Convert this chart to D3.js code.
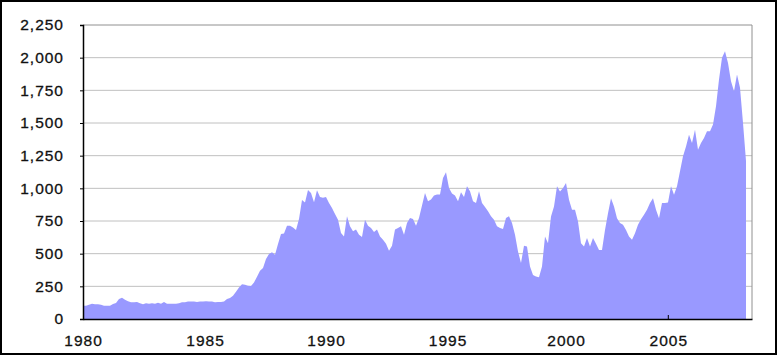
<!DOCTYPE html>
<html>
<head>
<meta charset="utf-8">
<script src="https://cdn.jsdelivr.net/npm/d3@7"></script>
<style>
  html, body { margin: 0; padding: 0; background: #fff; }
  svg text { font-family: "Liberation Sans", Arial, sans-serif; }
</style>
</head>
<body>
<div id="chart"></div>
<script>
// series values, one per sample step (roughly evenly spaced over 1980 - early 2008)
const values = [
  102, 102, 110, 117, 112, 112, 110, 102, 102, 102,
  115, 122, 153, 163, 148, 135, 128, 128, 130, 120,
  112, 120, 117, 120, 117, 125, 117, 130, 117, 117,
  117, 117, 120, 128, 128, 133, 133, 133, 130, 133,
  133, 135, 133, 133, 128, 130, 130, 133, 153, 160,
  178, 209, 242, 265, 262, 255, 252, 280, 324, 370,
  390, 459, 497, 510, 492, 574, 650, 655, 714, 714,
  701, 681, 765, 910, 892, 987, 965, 893, 986, 934,
  927, 934, 888, 850, 804, 760, 658, 632, 786, 709,
  671, 684, 645, 627, 760, 714, 696, 666, 684, 632,
  607, 576, 522, 561, 684, 696, 709, 645, 735, 773,
  765, 714, 773, 868, 965, 901, 914, 945, 952, 952,
  1080, 1124, 1003, 960, 945, 901, 970, 934, 1016, 978,
  901, 888, 978, 888, 858, 824, 786, 760, 709, 696,
  689, 773, 786, 735, 645, 517, 428, 561, 555, 401,
  337, 325, 320, 401, 631, 580, 785, 861, 1015, 976,
  1002, 1040, 912, 836, 836, 746, 580, 555, 619, 555,
  619, 575, 529, 529, 682, 810, 925, 861, 772, 734,
  721, 682, 631, 606, 657, 721, 764, 797, 836, 887,
  925, 836, 772, 887, 887, 892, 1015, 951, 1015, 1130,
  1245, 1321, 1411, 1347, 1449, 1296, 1347, 1385, 1436, 1436,
  1488, 1628, 1833, 1999, 2050, 1960, 1820, 1743, 1871, 1769,
  1500, 1210
];
const sampleCount = 224;            // x axis spans this many sample steps
const yearLabels = ["1980", "1985", "1990", "1995", "2000", "2005"];
const yearSteps = [0, 40.7, 81, 121.5, 161, 195.1];  // step where each year starts
const markedYear = "2005";
const yTicks = [0, 250, 500, 750, 1000, 1250, 1500, 1750, 2000, 2250];

const width = 780, height = 357;
const margin = { top: 25, right: 28, bottom: 38, left: 83 };
const innerW = width - margin.left - margin.right;
const innerH = height - margin.top - margin.bottom;

const svg = d3.select("#chart").append("svg")
  .attr("width", width)
  .attr("height", height);

// outer frame
svg.append("rect")
  .attr("x", 1).attr("y", 1)
  .attr("width", 775).attr("height", 353)
  .attr("fill", "#fff")
  .attr("stroke", "#000")
  .attr("stroke-width", 2);

const g = svg.append("g").attr("transform", `translate(${margin.left},${margin.top})`);

const x = d3.scaleLinear().domain([0, sampleCount - 1]).range([0, innerW]);
const y = d3.scaleLinear().domain([0, 2250]).range([innerH, 0]);

// gridlines
g.selectAll(".grid")
  .data(yTicks.filter(d => d > 0 && d < 2250))
  .join("line")
  .attr("class", "grid")
  .attr("x1", 0).attr("x2", innerW)
  .attr("y1", d => y(d)).attr("y2", d => y(d))
  .attr("stroke", "#c0c0c0")
  .attr("stroke-width", 1);

// area
const area = d3.area()
  .x((d, i) => x(i))
  .y0(y(0))
  .y1(d => y(d));

g.append("path")
  .datum(values)
  .attr("d", area)
  .attr("fill", "#9999ff");

// plot border: top & right grey
g.append("path")
  .attr("d", `M0,${y(2250)}H${innerW}V${innerH}`)
  .attr("fill", "none")
  .attr("stroke", "#909090")
  .attr("stroke-width", 1);

function styleLabels(sel) {
  sel.attr("font-size", 15.5)
    .attr("letter-spacing", 1)
    .attr("fill", "#111")
    .attr("stroke", "#111")
    .attr("stroke-width", 0.3);
}

// y axis
const yAxis = g.append("g")
  .call(d3.axisLeft(y).tickValues(yTicks).tickSize(3).tickPadding(16)
    .tickFormat(d3.format(",")));
yAxis.select(".domain").attr("stroke", "#000").attr("stroke-width", 1.5);
yAxis.selectAll(".tick line").attr("stroke", "#000");
yAxis.selectAll("text").call(styleLabels);

// x axis
const xAxis = g.append("g")
  .attr("transform", `translate(0,${innerH})`)
  .call(d3.axisBottom(x).tickValues(yearSteps).tickSize(0).tickPadding(16)
    .tickFormat((d, i) => yearLabels[i]));
xAxis.select(".domain").attr("stroke", "#000").attr("stroke-width", 1.5);
xAxis.selectAll("text").call(styleLabels);

// the one visible tick mark
const mi = yearLabels.indexOf(markedYear);
g.append("line")
  .attr("x1", x(yearSteps[mi])).attr("x2", x(yearSteps[mi]))
  .attr("y1", innerH).attr("y2", innerH - 4)
  .attr("stroke", "#000");
</script>
</body>
</html>
